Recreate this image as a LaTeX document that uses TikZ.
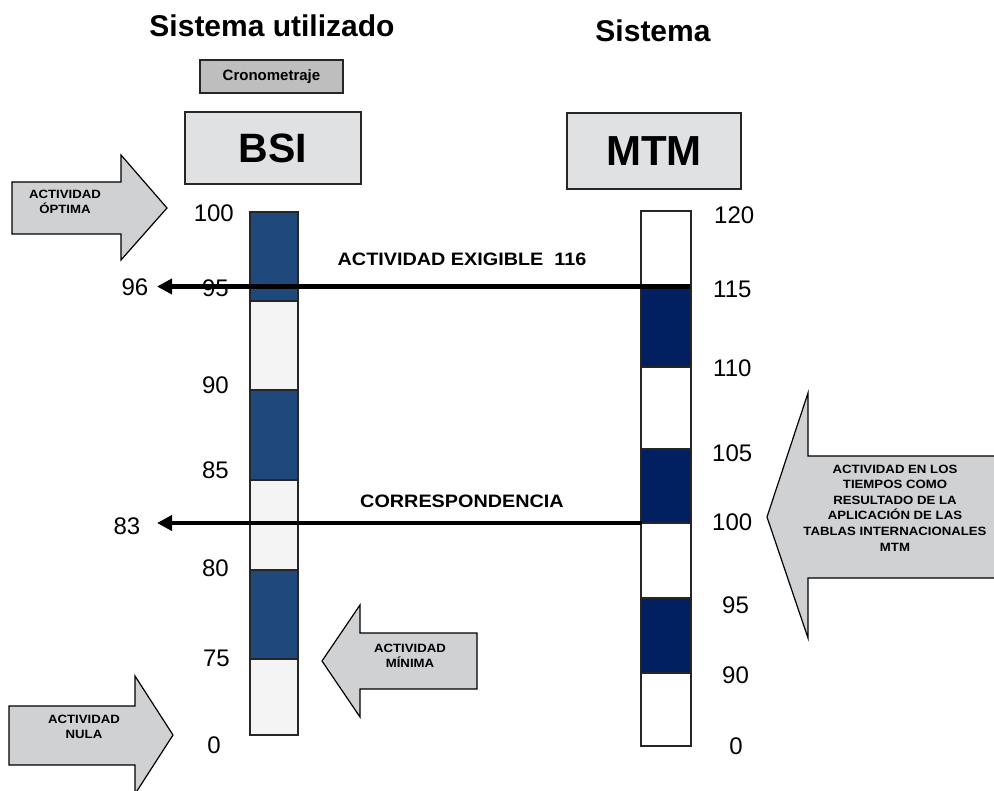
\documentclass[tikz,border=0pt]{standalone}
\usepackage{fontspec}
\setmainfont{Liberation Sans}
\newfontfamily\wide[FakeStretch=1.1]{Liberation Sans}
\usetikzlibrary{arrows.meta}
\definecolor{arrowgray}{RGB}{208,209,211}
\definecolor{boxgray}{RGB}{224,225,227}
\definecolor{cronogray}{RGB}{190,190,190}
\definecolor{bsidark}{RGB}{31,73,125}
\definecolor{bsilight}{RGB}{244,244,244}
\definecolor{mtmdark}{RGB}{0,32,96}
\tikzset{
  bigarrow/.style={draw=black, line width=1.2pt, fill=arrowgray, line join=miter},
  arrowtext/.style={font=\wide\bfseries\fontsize{12}{15.6}\selectfont, align=center, inner sep=0pt},
  numlbl/.style={font=\fontsize{24}{28}\selectfont, inner sep=0pt},
  heading/.style={font=\bfseries\fontsize{30}{34}\selectfont, inner sep=0pt},
  sysbox/.style={draw=black!85, line width=1.6pt, fill=boxgray},
  seg/.style={draw=black!85, line width=1.4pt},
  connector/.style={line width=4.5pt, -{Triangle[length=15pt,width=15pt]}},
  linelbl/.style={font=\wide\bfseries\fontsize{18}{22}\selectfont, inner sep=0pt}
}
\begin{document}
\begin{tikzpicture}[x=1pt,y=-1pt]
\useasboundingbox (0,0) rectangle (994,791);
% headings
\node[heading] (h1) at (272,26) {Sistema utilizado};
\node[heading] (h2) at (653,31) {Sistema};
% cronometraje
\draw[draw=black!85, line width=1.3pt, fill=cronogray] (200,60) rectangle (343,93);
\node[font=\bfseries\fontsize{15}{18}\selectfont, inner sep=0pt] (crono) at (271.5,76.5) {Cronometraje};
% system boxes
\draw[sysbox] (185,112) rectangle (361,184);
\node[font=\bfseries\fontsize{41}{46}\selectfont, inner sep=0pt] (bsi) at (273,148) {BSI};
\draw[sysbox] (567,113) rectangle (741,189);
\node[font=\bfseries\fontsize{42}{46}\selectfont, inner sep=0pt] (mtm) at (654,151) {MTM};
% BSI column
\draw[seg, fill=bsidark] (250,212) rectangle (298,301);
\draw[seg, fill=bsilight] (250,301) rectangle (298,390);
\draw[seg, fill=bsidark] (250,390) rectangle (298,480);
\draw[seg, fill=bsilight] (250,480) rectangle (298,570);
\draw[seg, fill=bsidark] (250,570) rectangle (298,659);
\draw[seg, fill=bsilight] (250,659) rectangle (298,735);
% MTM column
\draw[seg, fill=white] (641,211) rectangle (691,287);
\draw[seg, fill=mtmdark] (641,287) rectangle (691,367);
\draw[seg, fill=white] (641,367) rectangle (691,449);
\draw[seg, fill=mtmdark] (641,449) rectangle (691,523);
\draw[seg, fill=white] (641,523) rectangle (691,598);
\draw[seg, fill=mtmdark] (641,598) rectangle (691,673);
\draw[seg, fill=white] (641,673) rectangle (691,746);
% BSI labels
\node[numlbl, anchor=east] (b100) at (234,213) {100};
\node[numlbl, anchor=east] (b95) at (229,288) {95};
\node[numlbl, anchor=east] (b90) at (229,385) {90};
\node[numlbl, anchor=east] (b85) at (229,470) {85};
\node[numlbl, anchor=east] (b80) at (229,568) {80};
\node[numlbl, anchor=east] (b75) at (230,658) {75};
\node[numlbl] (b0) at (214,745) {0};
% MTM labels
\node[numlbl, anchor=west] (m120) at (714,215) {120};
\node[numlbl, anchor=west] (m115) at (713,289) {115};
\node[numlbl, anchor=west] (m110) at (713,368) {110};
\node[numlbl, anchor=west] (m105) at (712,453) {105};
\node[numlbl, anchor=west] (m100) at (712,522) {100};
\node[numlbl, anchor=west] (m95) at (722,605) {95};
\node[numlbl, anchor=west] (m90) at (722,675) {90};
\node[numlbl] (m0) at (736,746) {0};
% targets
\node[numlbl] (t96) at (135,287) {96};
\node[numlbl] (t83) at (127,526) {83};
% connectors
\coordinate (e1) at (690,286.5);
\coordinate (e1tip) at (157,286.5);
\draw[connector] (e1) -- (e1tip);
\node[linelbl] (lexig) at (462,259) {ACTIVIDAD EXIGIBLE\ \ 116};
\coordinate (e2) at (642,523);
\coordinate (e2tip) at (157,523);
\draw[connector] (e2) -- (e2tip);
\node[linelbl] (lcorr) at (462,501) {CORRESPONDENCIA};
% block arrows
\draw[bigarrow] (12,182) -- (121,182) -- (121,155) -- (167,208) -- (121,260) -- (121,234) -- (12,234) -- cycle;
\node[arrowtext] (aopt) at (65,202) {ACTIVIDAD\\ÓPTIMA};
\draw[bigarrow] (9,706) -- (135,706) -- (135,676) -- (173,735) -- (135,794) -- (135,765) -- (9,765) -- cycle;
\node[arrowtext] (anula) at (84,727) {ACTIVIDAD\\NULA};
\draw[bigarrow] (322,661) -- (360,605) -- (360,633) -- (477,633) -- (477,689) -- (360,689) -- (360,717) -- cycle;
\node[arrowtext] (amin) at (410,656) {ACTIVIDAD\\MÍNIMA};
\draw[bigarrow] (767,517) -- (808,393) -- (808,456) -- (1000,456) -- (1000,578) -- (808,578) -- (808,638) -- cycle;
\node[arrowtext] (amtm) at (895,508) {ACTIVIDAD EN LOS\\TIEMPOS COMO\\RESULTADO DE LA\\APLICACIÓN DE LAS\\TABLAS INTERNACIONALES\\MTM};
\end{tikzpicture}
\end{document}
